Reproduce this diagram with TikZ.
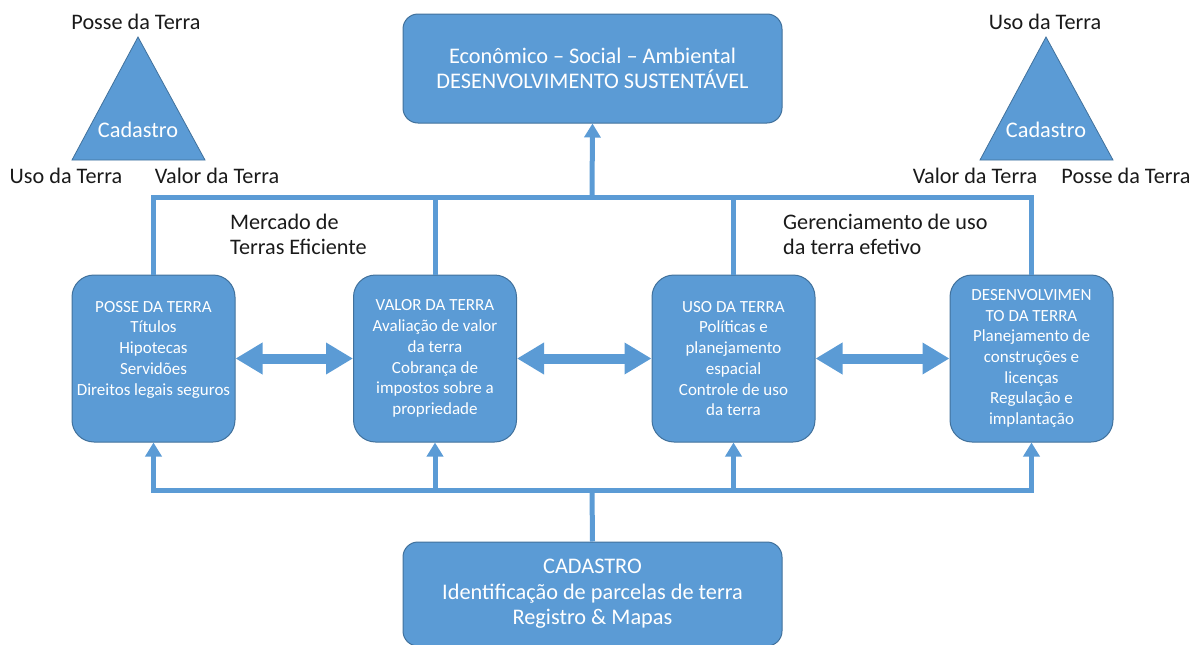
\documentclass[tikz,border=0pt]{standalone}
\usepackage{fontspec}
\setmainfont{Carlito}
\usetikzlibrary{arrows.meta}
\definecolor{bfill}{HTML}{5B9BD5}
\definecolor{bdraw}{HTML}{41719C}
\definecolor{txt}{HTML}{1A1A1A}
\begin{document}
\begin{tikzpicture}[x=1pt,y=-1pt,
 box/.style={rounded corners=22pt, fill=bfill, draw=bdraw, line width=1pt, text=white, align=center, minimum width=163pt, minimum height=167pt, inner sep=2pt, font=\fontsize{17}{20.7}\selectfont},
 bigbox/.style={rounded corners=15pt, fill=bfill, draw=bdraw, line width=1pt, text=white, align=center, minimum width=379pt, font=\fontsize{22.3}{25.4}\selectfont},
 conn/.style={draw=bfill, line width=5pt},
 tipline/.style={conn, -{Triangle[width=16pt,length=14pt]}},
 dbl/.style={draw=bfill, line width=10pt, {Triangle[width=30pt,length=27pt]}-{Triangle[width=30pt,length=27pt]}},
 lbl/.style={text=txt, font=\fontsize{22.2}{25.2}\selectfont, inner sep=0pt},
 tri/.style={fill=bfill, draw=bdraw, line width=0.8pt},
 tritext/.style={text=white, font=\fontsize{22.3}{25}\selectfont, inner sep=0pt}]
\useasboundingbox (0,0) rectangle (1192,645);

% top and bottom boxes
\node[bigbox, minimum height=109pt] (top) at (592.5,68.5)
  {Econômico -- Social -- Ambiental\\DESENVOLVIMENTO SUSTENTÁVEL};
\node[bigbox, minimum height=104pt] (cad) at (592.5,594)
  {CADASTRO\\Identificação de parcelas de terra\\Registro \& Mapas};

% four boxes
\node[box] (posse) at (153.5,358.5)
  {POSSE DA TERRA\\Títulos\\Hipotecas\\Servidões\\Direitos legais seguros\\\mbox{}};
\node[box] (valor) at (435,358.5)
  {VALOR DA TERRA\\Avaliação de valor\\da terra\\Cobrança de\\impostos sobre a\\propriedade};
\node[box] (uso) at (733.5,358.5)
  {USO DA TERRA\\Políticas e\\planejamento\\espacial\\Controle de uso\\da terra};
\node[box] (desenv) at (1031.5,358.5)
  {DESENVOLVIMEN\\TO DA TERRA\\Planejamento de\\construções e\\licenças\\Regulação e\\implantação};

% double arrows
\draw[dbl] (posse.east) -- (valor.west);
\draw[dbl] (valor.east) -- (uso.west);
\draw[dbl] (uso.east) -- (desenv.west);

% top connectors
\coordinate (tb) at (592,197);
\draw[conn] (posse.north) |- (tb) -| (desenv.north);
\draw[conn] (valor.north) -- (valor.north |- tb);
\draw[conn] (uso.north) -- (uso.north |- tb);
\draw[tipline] (tb) -- (top.south);

% bottom connectors
\coordinate (bb) at (592,490);
\draw[conn] (cad.north) -- (bb);
\draw[conn, line cap=rect] (posse.south |- bb) -- (desenv.south |- bb);
\draw[tipline] (posse.south |- bb) -- (posse.south);
\draw[tipline] (valor.south |- bb) -- (valor.south);
\draw[tipline] (uso.south |- bb) -- (uso.south);
\draw[tipline] (desenv.south |- bb) -- (desenv.south);

% labels between
\node[lbl, anchor=west, align=left] (merc) at (230,234.5) {Mercado de\\Terras Eficiente};
\node[lbl, anchor=west, align=left] (ger) at (783,234.5) {Gerenciamento de uso\\da terra efetivo};

% left triangle
\draw[tri] (72,160) -- (138,37) -- (205,160) -- cycle;
\node[tritext] (lcad) at (138,130) {Cadastro};
\node[lbl] (ltop) at (136,22) {Posse da Terra};
\node[lbl] (lleft) at (66,176) {Uso da Terra};
\node[lbl] (lright) at (217,176) {Valor da Terra};

% right triangle
\draw[tri] (980,160) -- (1046,37) -- (1113,160) -- cycle;
\node[tritext] (rcad) at (1046,130) {Cadastro};
\node[lbl] (rtop) at (1045,22) {Uso da Terra};
\node[lbl] (rleft) at (975,176) {Valor da Terra};
\node[lbl] (rright) at (1126,176) {Posse da Terra};
\end{tikzpicture}
\end{document}
